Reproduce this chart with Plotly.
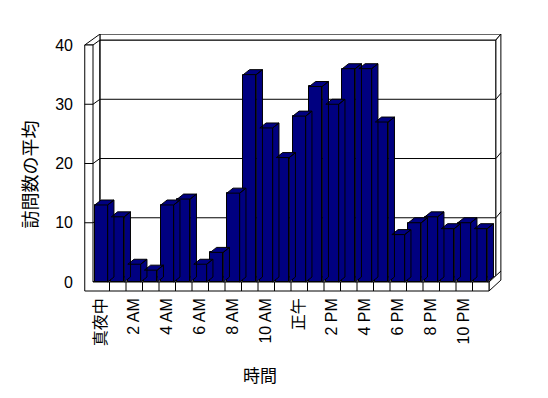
import plotly.graph_objects as go

# ---- data ----
hour_labels = ["真夜中", "2 AM", "4 AM", "6 AM", "8 AM", "10 AM",
               "正午", "2 PM", "4 PM", "6 PM", "8 PM", "10 PM"]
visits = [13, 11, 3, 2, 13, 14, 3, 5, 15, 35, 26, 21,
          28, 33, 30, 36, 36, 27, 8, 10, 11, 9, 10, 9]
y_tick_values = [0, 10, 20, 30, 40]
x_title = "時間"
y_title = "訪問数の平均"

# ---- style constants ----
NAVY = "#000080"
BAR_W = 0.78
DX, DY = 0.38, 0.84      # bar depth (data units)
BX, BY = 0.42, 0.84      # back-plane offset
WX, WY = 0.30, 1.00      # wall thickness
LAT = "Liberation Sans, Noto Sans CJK JP"
CJK = "Noto Sans CJK JP"

n = len(visits)
idx = list(range(n))
tick_pos = idx[::2]
y_max = y_tick_values[-1]
xL, xW, xR = -1.0, -0.5, n - 0.5
yF = -1.52

# 3D side and top faces of every bar, derived from the values
fx, fy = [], []
for i, v in enumerate(visits):
    l, r = i - BAR_W / 2, i + BAR_W / 2
    fx += [r, r + DX, r + DX, r, r, None]
    fy += [0, DY, v + DY, v, 0, None]
    fx += [l, r, r + DX, l + DX, l, None]
    fy += [v, v, v + DY, v + DY, v, None]

faces = go.Scatter(x=fx, y=fy, mode="lines", fill="toself", fillcolor=NAVY,
                   line=dict(color="black", width=1), hoverinfo="skip",
                   showlegend=False)
bars = go.Bar(x=idx, y=visits, width=BAR_W, marker=dict(color=NAVY,
              line=dict(color="black", width=1)), showlegend=False)

fig = go.Figure([faces, bars])


def path(pts):
    return "M " + " L ".join(f"{x},{y}" for x, y in pts) + " Z"


def openpath(pts):
    return "M " + " L ".join(f"{x},{y}" for x, y in pts)


ln = dict(color="black", width=1)
shapes = []
# back wall front face
shapes.append(dict(type="rect", x0=xW + BX, x1=xR + BX, y0=BY, y1=y_max + BY,
                   fillcolor="white", line=ln))
# back wall top slab
shapes.append(dict(type="path", path=path([(xW + BX, y_max + BY), (xR + BX, y_max + BY),
                                           (xR + BX + WX, y_max + BY + WY), (xW + BX, y_max + BY + WY)]),
                   fillcolor="white", line=ln))
# back wall right slab
shapes.append(dict(type="path", path=path([(xR + BX, y_max + BY), (xR + BX + WX, y_max + BY + WY),
                                           (xR + BX + WX, BY + WY), (xR + BX, BY)]),
                   fillcolor="white", line=ln))
# gridlines
for v in y_tick_values[1:-1]:
    shapes.append(dict(type="path", path=openpath([(xL, v), (xW, v), (xW + BX, v + BY),
                                                   (xR + BX, v + BY), (xR + BX + WX, v + BY + WY)]),
                       line=ln))
# floor top face
shapes.append(dict(type="path", path=path([(xW, 0), (xR, 0), (xR + BX, BY), (xW + BX, BY)]),
                   fillcolor="white", line=ln))
# floor right side
shapes.append(dict(type="path", path=path([(xR, 0), (xR, yF), (xR + BX + WX, yF + BY + WY),
                                           (xR + BX + WX, BY + WY)]),
                   fillcolor="white", line=ln))
# left wall top
shapes.append(dict(type="path", path=path([(xL, y_max), (xW, y_max), (xW + BX, y_max + BY),
                                           (xW + BX, y_max + BY + WY)]),
                   fillcolor="white", line=ln))
# left wall inner face edge
shapes.append(dict(type="line", x0=xW + BX, x1=xW + BX, y0=BY, y1=y_max + BY, line=ln))
# left wall + floor front face
shapes.append(dict(type="path", path=path([(xL, yF), (xL, y_max), (xW, y_max), (xW, 0),
                                           (xR, 0), (xR, yF)]),
                   fillcolor="white", line=ln))
# category separators on floor front
for i in idx[:-1]:
    shapes.append(dict(type="line", x0=i + 0.5, x1=i + 0.5, y0=yF, y1=0, line=ln))
# ticks on left wall front
for v in y_tick_values[1:-1]:
    shapes.append(dict(type="line", x0=xL, x1=xW, y0=v, y1=v, line=ln))
for s in shapes:
    s.update(xref="x", yref="y", layer="below")

SX, SY = 16.5, 5.925
L_M, R_M, T_M, B_M = 84, 46, 34, 106
W, H = 548, 398
x0 = -0.5 - (93 - L_M) / SX
x1 = x0 + (W - L_M - R_M) / SX
y0 = -((H - B_M) - 282) / SY
y1 = y0 + (H - T_M - B_M) / SY

fig.update_layout(
    width=W, height=H, margin=dict(l=L_M, r=R_M, t=T_M, b=B_M, pad=0),
    paper_bgcolor="white", plot_bgcolor="white",
    shapes=shapes, bargap=0, showlegend=False,
    xaxis=dict(range=[x0, x1], showgrid=False, zeroline=False, showline=False,
               tickvals=tick_pos, ticktext=hour_labels, tickangle=-90,
               ticks="", ticklabelstandoff=2,
               tickfont=dict(family=LAT, size=16, color="black")),
    yaxis=dict(range=[y0, y1], showgrid=False, zeroline=False, showline=False,
               tickvals=y_tick_values, ticks="", ticklabelstandoff=10,
               tickfont=dict(family=LAT, size=16, color="black")),
    annotations=[
        dict(text=x_title, xref="paper", yref="paper",
             x=(260 - L_M) / (W - L_M - R_M), y=((H - B_M) - 374.5) / (H - T_M - B_M),
             showarrow=False, xanchor="center", yanchor="middle",
             font=dict(family=CJK, size=17, color="black")),
        dict(text=y_title, xref="paper", yref="paper", textangle=-90,
             x=(28.5 - L_M) / (W - L_M - R_M), y=((H - B_M) - 175) / (H - T_M - B_M),
             showarrow=False, xanchor="center", yanchor="middle",
             font=dict(family=CJK, size=18, color="black")),
    ],
)

fig.write_html("out.html")
